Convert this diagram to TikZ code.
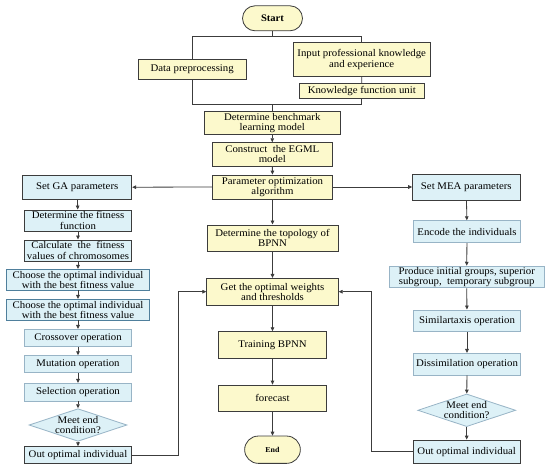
\documentclass[tikz,border=0pt]{standalone}
\usepackage{fontspec}
\setmainfont{Liberation Serif}[FakeStretch=1.06]
\usetikzlibrary{shapes.geometric,shapes.misc,arrows.meta}
\definecolor{yfill}{HTML}{FCF9CC}
\definecolor{bfill}{HTML}{DDF1F7}
\definecolor{dline}{HTML}{3C3C3C}
\definecolor{cline}{HTML}{4F7F9C}
\definecolor{lline}{HTML}{98B4C6}
\begin{document}
\begin{tikzpicture}[x=1pt,y=1pt,
  every node/.style={font=\fontsize{10.2}{10.2}\selectfont, align=center, inner sep=0pt},
  ybox/.style={rectangle, fill=yfill, draw=dline, line width=0.8pt},
  dbox/.style={rectangle, fill=bfill, draw=dline, line width=0.9pt},
  cbox/.style={rectangle, fill=bfill, draw=cline, line width=0.8pt},
  lbox/.style={rectangle, fill=bfill, draw=lline, line width=0.8pt},
  termbox/.style={rounded rectangle, fill=yfill, draw=dline, line width=0.8pt, font=\fontsize{10}{10.5}\selectfont\bfseries},
  dia/.style={diamond, aspect=3, fill=bfill, draw=lline, line width=0.8pt},
  conn/.style={draw=dline, line width=0.8pt},
  arr/.style={conn, -{Triangle[length=4pt,width=3.6pt]}},
]
\useasboundingbox (0,0) rectangle (550,-469);
% centre column
\node[termbox, minimum width=60, minimum height=25] (start) at (272.5,-18.3) {Start};
\node[ybox, minimum width=107.7, minimum height=19.7] (data) at (192.2,-69.2) {Data preprocessing};
\node[ybox, minimum width=136.7, minimum height=34.4] (input) at (361.7,-59.5) {Input professional knowledge\\and experience};
\node[ybox, minimum width=125, minimum height=15] (know) at (361.8,-90.8) {Knowledge function unit};
\node[ybox, minimum width=136.7, minimum height=23.3] (bench) at (272.3,-122.7) {Determine benchmark\\learning model};
\node[ybox, minimum width=119.3, minimum height=23.3] (egml) at (272.3,-154.3) {Construct\ \ the EGML\\model};
\node[ybox, minimum width=120.5, minimum height=24] (param) at (272.5,-187) {Parameter optimization\\algorithm};
\node[ybox, minimum width=131, minimum height=26.7] (topo) at (272.5,-238.3) {Determine the topology of\\BPNN};
\node[ybox, minimum width=131.6, minimum height=26.7] (getw) at (272.5,-291.7) {Get the optimal weights\\and thresholds};
\node[ybox, minimum width=107.4, minimum height=26.6] (train) at (272.5,-345) {Training BPNN};
\node[ybox, minimum width=107.4, minimum height=26] (fore) at (272.5,-398) {forecast};
\node[termbox, minimum width=55.7, minimum height=27.3, font=\fontsize{7.5}{8}\selectfont\bfseries] (endn) at (272.5,-449.7) {End};
% left column
\node[dbox, minimum width=109, minimum height=24.3] (setga) at (77.2,-187.2) {Set GA parameters};
\node[dbox, minimum width=107.4, minimum height=21] (detfit) at (78,-220.5) {Determine the fitness\\function};
\node[dbox, minimum width=107.4, minimum height=21] (calc) at (78,-250.5) {Calculate\ \ the\ \ fitness\\values of chromosomes};
\node[cbox, minimum width=142.6, minimum height=20.7] (cho1) at (78,-279.7) {Choose the optimal individual\\with the best fitness value};
\node[cbox, minimum width=142.6, minimum height=20.7] (cho2) at (78,-309.7) {Choose the optimal individual\\with the best fitness value};
\node[lbox, minimum width=107.7, minimum height=17.4] (cross) at (78,-338) {Crossover operation};
\node[lbox, minimum width=107.7, minimum height=17] (mut) at (78,-364.2) {Mutation operation};
\node[lbox, minimum width=107.7, minimum height=17.7] (sel) at (78,-392.2) {Selection operation};
\node[dia, minimum width=96, minimum height=30] (dia1) at (78,-425) {Meet end\\condition?};
\node[dbox, minimum width=107.4, minimum height=16.6] (outl) at (78,-455) {Out optimal individual};
% right column
\node[dbox, minimum width=107.3, minimum height=26] (setmea) at (466.3,-187) {Set MEA parameters};
\node[lbox, minimum width=107.4, minimum height=22] (enc) at (467,-231.7) {Encode the individuals};
\node[lbox, minimum width=154.7, minimum height=21.7] (prod) at (466.7,-277) {Produce initial groups, superior\\subgroup,\ \ temporary subgroup};
\node[lbox, minimum width=107.4, minimum height=21.7] (sim) at (467,-320.8) {Similartaxis operation};
\node[lbox, minimum width=107.4, minimum height=21.7] (dis) at (467,-364.2) {Dissimilation operation};
\node[dia, minimum width=96.7, minimum height=26] (dia2) at (466.7,-410.3) {Meet end\\condition?};
\node[cbox, draw=dline, minimum width=106.7, minimum height=23.3] (outr) at (466.7,-451.7) {Out optimal individual};
% junction coordinates
\coordinate (jt) at (272.5,-36.7);
\coordinate (jb) at (272.3,-104);
\coordinate (lx) at (178.3,0);
\coordinate (rx) at (371.7,0);
% top connectors
\draw[conn] (start.south) -- (jt);
\draw[conn] (data.north) -- (data.north |- jt) -- (input.north |- jt) -- (input.north);
\draw[conn] (input.south) -- (know.north);
\draw[conn] (data.south) -- (data.south |- jb) -- (know.south |- jb) -- (know.south);
\draw[conn] (jb) -- (bench.north);
% centre arrows
\draw[arr] (bench) -- (egml);
\draw[arr] (egml) -- (param);
\draw[arr] (param) -- (topo);
\draw[arr] (topo) -- (getw);
\draw[arr] (getw) -- (train);
\draw[arr] (train) -- (fore);
\draw[arr] (fore) -- (endn);
\draw[arr] (param.west) -- (setga.east);
\draw[arr] (param.east) -- (setmea.west);
% left arrows
\draw[arr] (setga) -- (detfit);
\draw[arr] (detfit) -- (calc);
\draw[arr] (calc) -- (cho1);
\draw[arr] (cho1) -- (cho2);
\draw[arr] (cho2) -- (cross);
\draw[arr] (cross) -- (mut);
\draw[arr] (mut) -- (sel);
\draw[arr] (sel) -- (dia1);
\draw[arr] (dia1) -- (outl);
% right arrows
\draw[arr] (setmea) -- (enc);
\draw[arr] (enc) -- (prod);
\draw[arr] (prod) -- (sim);
\draw[arr] (sim) -- (dis);
\draw[arr] (dis) -- (dia2);
\draw[arr] (dia2) -- (outr);
% feedback loops
\draw[arr] (outl.east) -- (outl.east -| lx) -- (getw.west -| lx) -- (getw.west);
\draw[arr] (outr.west) -- (outr.west -| rx) -- (getw.east -| rx) -- (getw.east);
\end{tikzpicture}
\end{document}
